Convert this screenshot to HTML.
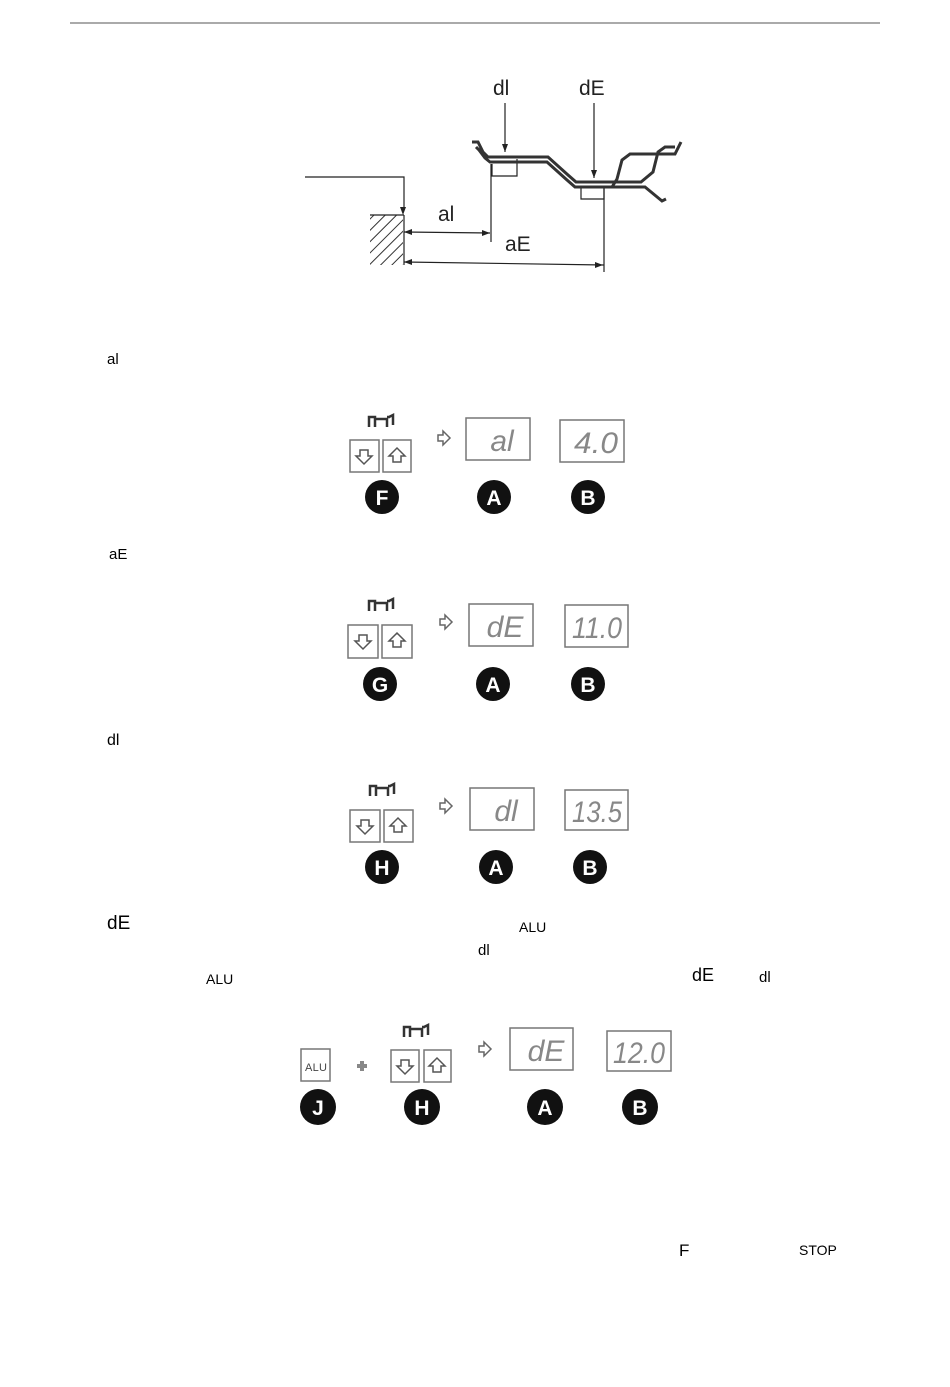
<!DOCTYPE html>
<html><head><meta charset="utf-8"><style>
html,body{margin:0;padding:0;background:#fff;}
svg{display:block;}
text{font-family:"Liberation Sans",sans-serif;}
</style></head><body>
<svg width="950" height="1387" viewBox="0 0 950 1387" xmlns="http://www.w3.org/2000/svg">
<defs>
<pattern id="h" width="8" height="8" patternUnits="userSpaceOnUse" patternTransform="rotate(45)"><line x1="0" y1="0" x2="0" y2="8" stroke="#333" stroke-width="2"/></pattern>
<g id="dn"><path d="M-4,-6 h8 v6 h4 l-8,8 l-8,-8 h4 z" fill="none" stroke="#555" stroke-width="1.5"/></g>
<g id="up"><path d="M-4,6 h8 v-6 h4 l-8,-8 l-8,8 h4 z" fill="none" stroke="#555" stroke-width="1.5"/></g>
<g id="ra"><path d="M-6,-3 h5 v-4 l7,7 l-7,7 v-4 h-5 z" fill="none" stroke="#666" stroke-width="1.5"/></g>
<g id="rim"><path d="M0,0 v-10 h6 v10 M6,-8 h12 v8 M20,-10 l4,-2 v10 M18,-10 h3" fill="none" stroke="#333" stroke-width="2.5"/></g>
</defs>
<line x1="70" y1="23" x2="880" y2="23" stroke="#555" stroke-width="1"/>

<g stroke="#222" fill="none" stroke-width="1.2">
<path d="M305,177 H404 V210"/>
<rect x="370" y="215" width="33" height="50" fill="url(#h)" stroke="none"/>
<line x1="370" y1="215" x2="404" y2="215"/>
<line x1="404" y1="215" x2="404" y2="265"/>
<line x1="404" y1="232" x2="490" y2="233"/>
<line x1="404" y1="262" x2="604" y2="265"/>
<line x1="491" y1="164" x2="491" y2="242"/>
<line x1="604" y1="188" x2="604" y2="272"/>
<path d="M492,164 v12 h25 v-17"/>
<path d="M581,187 v12 h23 v-12"/>
<line x1="505" y1="103" x2="505" y2="152"/>
<line x1="594" y1="103" x2="594" y2="178"/>
<path d="M472,142 l6,0 l5,10 l5,5 h60 l20,18 l8,7 h65 l12,-10 l5,-20 l7,-5 h10 M476,147 l3,3 l6,8 l5,4 h57 l20,18 l8,7 h60 l10,0 l17,14 l4,-2 M612,187 l5,-8 l5,-19 l8,-6 h45 l6,-12" stroke-width="3" stroke="#333"/>
</g>
<path d="M403,215 l-3,-8 h6z M404,232 l8,-3 v6z M490,233 l-8,-3 v6z M404,262 l8,-3 v6z M603,265 l-8,-3 v6z M505,152 l-3,-8 h6z M594,178 l-3,-8 h6z" fill="#222"/>
<text x="493" y="95" font-size="21" fill="#222">dl</text>
<text x="579" y="95" font-size="21" fill="#222">dE</text>
<text x="438" y="221" font-size="21" fill="#222">al</text>
<text x="505" y="251" font-size="21" fill="#222">aE</text>

<text x="107" y="364" font-size="15">al</text>
<text x="109" y="559" font-size="15">aE</text>
<text x="107" y="745" font-size="16">dl</text>
<text x="107" y="929" font-size="19">dE</text>
<text x="519" y="932" font-size="14">ALU</text>
<text x="478" y="955" font-size="15">dl</text>
<text x="206" y="984" font-size="14">ALU</text>
<text x="692" y="981" font-size="18">dE</text>
<text x="759" y="982" font-size="15">dl</text>
<text x="679" y="1256" font-size="17">F</text>
<text x="799" y="1255" font-size="14">STOP</text>

<g stroke="#777" stroke-width="1.5" fill="none">
<rect x="350" y="440" width="29" height="32"/><rect x="383" y="440" width="28" height="32"/>
<rect x="466" y="418" width="64" height="42"/><rect x="560" y="420" width="64" height="42"/>
<rect x="348" y="625" width="30" height="33"/><rect x="382" y="625" width="30" height="33"/>
<rect x="469" y="604" width="64" height="42"/><rect x="565" y="605" width="63" height="42"/>
<rect x="350" y="810" width="30" height="32"/><rect x="384" y="810" width="29" height="32"/>
<rect x="470" y="788" width="64" height="42"/><rect x="565" y="790" width="63" height="40"/>
<rect x="301" y="1049" width="29" height="32"/>
<rect x="391" y="1050" width="28" height="32"/><rect x="424" y="1050" width="27" height="32"/>
<rect x="510" y="1028" width="63" height="42"/><rect x="607" y="1031" width="64" height="40"/>
</g>
<use href="#dn" x="364" y="456"/><use href="#up" x="397" y="456"/>
<use href="#dn" x="363" y="641"/><use href="#up" x="397" y="641"/>
<use href="#dn" x="365" y="826"/><use href="#up" x="398" y="826"/>
<use href="#dn" x="405" y="1066"/><use href="#up" x="437" y="1066"/>
<use href="#ra" x="444" y="438"/><use href="#ra" x="446" y="622"/><use href="#ra" x="446" y="806"/><use href="#ra" x="485" y="1049"/>
<path d="M362,1061 v10 M357,1066 h10" stroke="#888" stroke-width="4"/>
<use href="#rim" x="369" y="427"/><use href="#rim" x="369" y="611"/><use href="#rim" x="370" y="796"/><use href="#rim" x="404" y="1037"/>
<text x="305" y="1071" font-size="11" fill="#444" textLength="22">ALU</text>

<g font-size="30" font-style="italic" fill="#888" text-anchor="middle">
<text x="502" y="451">al</text><text x="596" y="453" textLength="44" lengthAdjust="spacingAndGlyphs">4.0</text>
<text x="505" y="637">dE</text><text x="597" y="638" textLength="50" lengthAdjust="spacingAndGlyphs">11.0</text>
<text x="506" y="821">dl</text><text x="597" y="822" textLength="50" lengthAdjust="spacingAndGlyphs">13.5</text>
<text x="546" y="1061">dE</text><text x="639" y="1063" textLength="52" lengthAdjust="spacingAndGlyphs">12.0</text>
</g>

<g fill="#111">
<circle cx="382" cy="497" r="17"/><circle cx="494" cy="497" r="17"/><circle cx="588" cy="497" r="17"/>
<circle cx="380" cy="684" r="17"/><circle cx="493" cy="684" r="17"/><circle cx="588" cy="684" r="17"/>
<circle cx="382" cy="867" r="17"/><circle cx="496" cy="867" r="17"/><circle cx="590" cy="867" r="17"/>
<circle cx="318" cy="1107" r="18"/><circle cx="422" cy="1107" r="18"/><circle cx="545" cy="1107" r="18"/><circle cx="640" cy="1107" r="18"/>
</g>
<g fill="#fff" font-size="21" font-weight="bold" text-anchor="middle">
<text x="382" y="505">F</text><text x="494" y="505">A</text><text x="588" y="505">B</text>
<text x="380" y="692">G</text><text x="493" y="692">A</text><text x="588" y="692">B</text>
<text x="382" y="875">H</text><text x="496" y="875">A</text><text x="590" y="875">B</text>
<text x="318" y="1115">J</text><text x="422" y="1115">H</text><text x="545" y="1115">A</text><text x="640" y="1115">B</text>
</g>
</svg>
</body></html>
